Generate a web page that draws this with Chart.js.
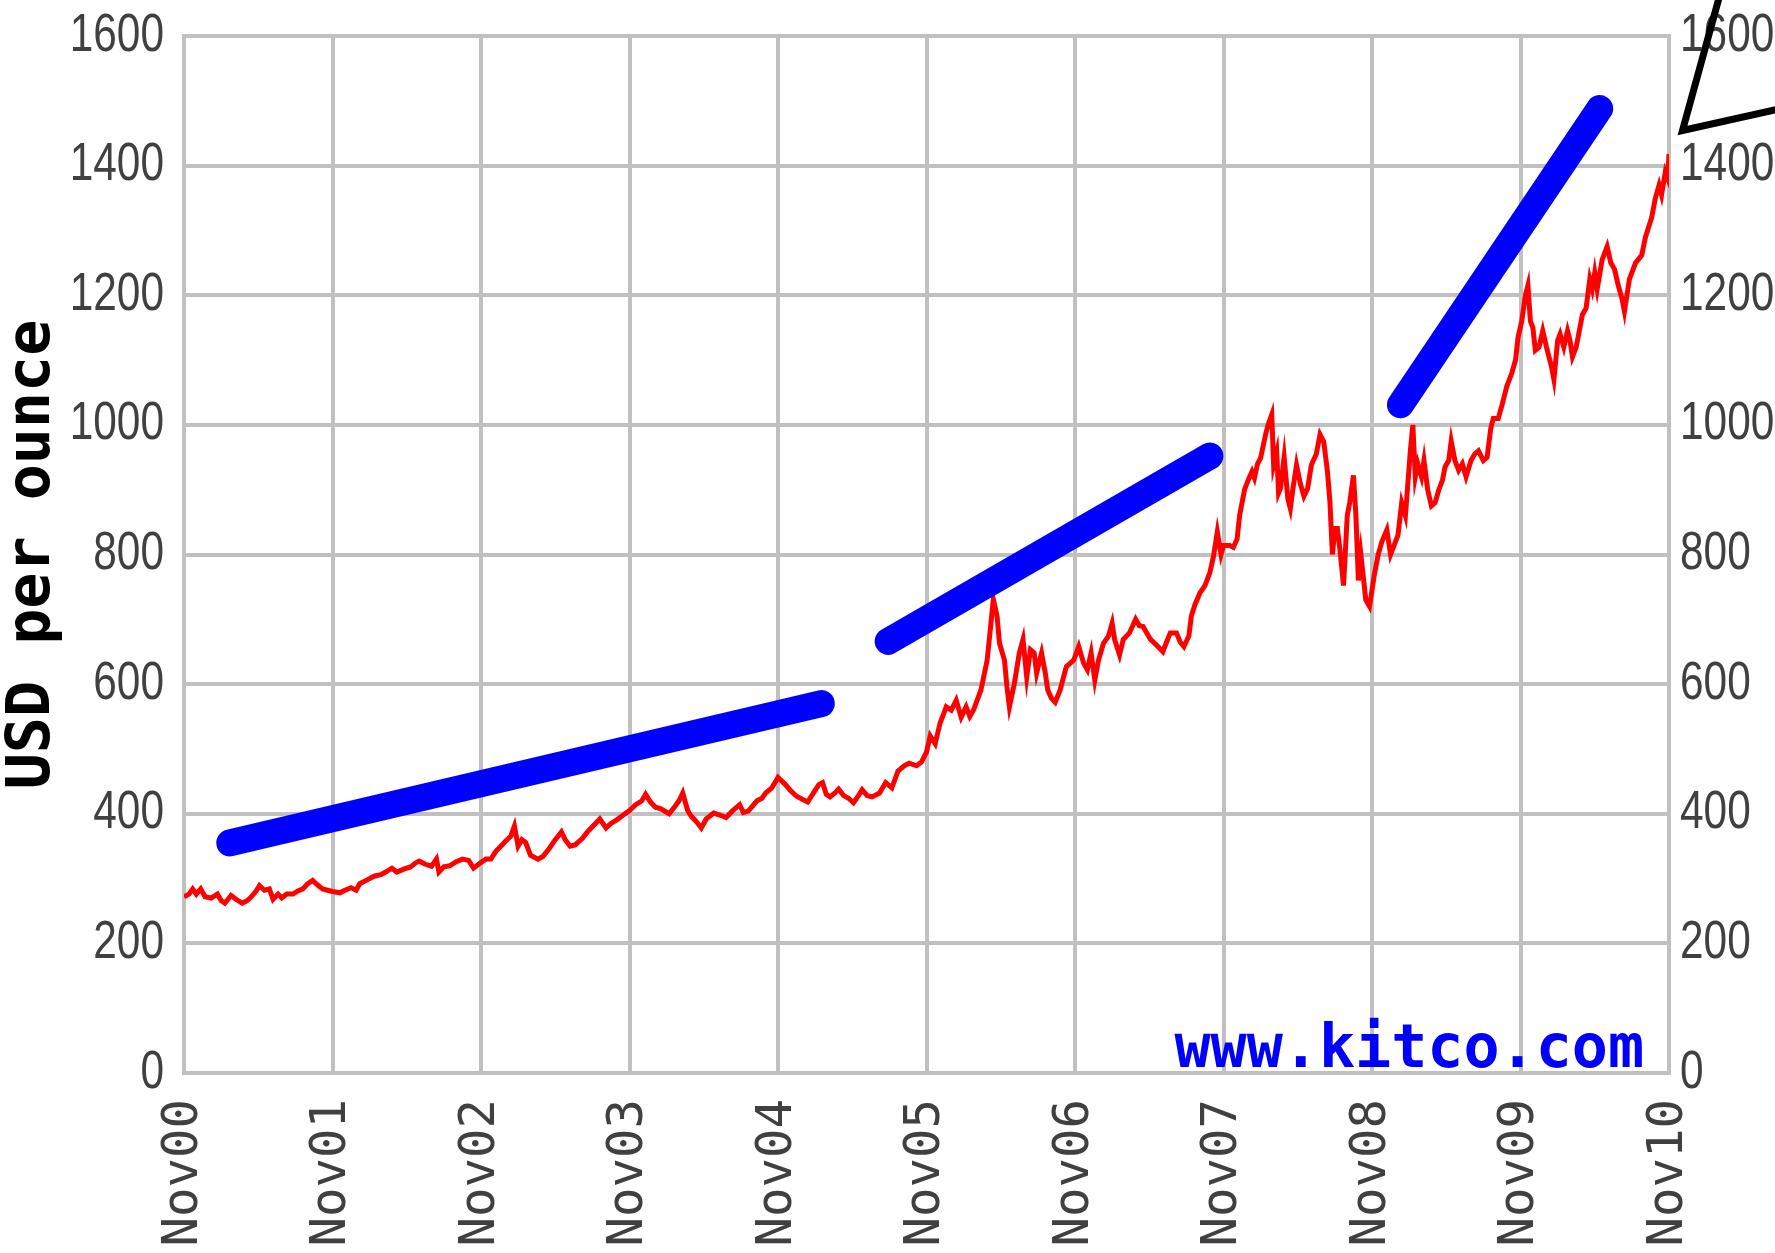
<!DOCTYPE html>
<html>
<head>
<meta charset="utf-8">
<script src="https://cdn.jsdelivr.net/npm/chart.js@4.4.1/dist/chart.umd.min.js"></script>
<style>
  html, body { margin: 0; padding: 0; background: #ffffff; }
  canvas { display: block; }
</style>
</head>
<body>
<canvas id="chart" width="1775" height="1253"></canvas>
<script>
// ---- Data (x = months since Nov 2000) ----
const xTickLabels = ['Nov00','Nov01','Nov02','Nov03','Nov04','Nov05','Nov06','Nov07','Nov08','Nov09','Nov10'];

const goldMonths = [
  0,0.4,0.7,1,1.35,1.7,2.2,2.7,3,3.3,3.8,4.2,4.7,5.1,5.4,5.8,6.1,6.5,6.9,7.2,7.6,7.9,8.3,8.8,9.2,9.6,10,10.4,10.8,11.2,11.6,
  12,12.6,13,13.5,13.9,14.2,14.8,15.4,15.9,16.3,16.8,17.2,17.8,18.3,18.7,19,19.5,20,20.4,20.6,21,21.5,22,22.5,23,23.4,23.8,
  24.4,24.8,25.2,25.6,26,26.4,26.7,27,27.3,27.6,28,28.6,29,29.5,30,30.5,30.8,31.2,31.6,32.2,32.6,33,33.6,34.1,34.5,35,35.5,
  36,36.5,37,37.3,37.7,38.1,38.5,39.2,39.7,40,40.3,40.7,41,41.4,41.8,42.2,42.8,43.3,43.8,44.3,44.9,45.2,45.6,46.3,46.7,47,47.5,
  48,48.6,49,49.5,50,50.4,51,51.3,51.6,51.9,52.2,52.6,52.9,53.3,53.7,54.1,54.5,54.8,55.2,55.6,56.2,56.7,57.2,57.7,58.2,58.6,59.2,59.6,
  60,60.3,60.7,61.1,61.6,62,62.4,62.8,63.2,63.5,63.8,64.4,64.9,65.1,65.4,65.7,65.9,66.3,66.5,66.7,67.1,67.5,67.8,68.1,68.4,68.7,68.9,69.3,69.6,69.8,70.1,70.4,70.8,71.3,71.9,
  72.3,72.7,73,73.3,73.6,73.9,74.3,74.7,75,75.2,75.6,75.9,76.4,76.9,77.2,77.5,78.1,78.6,79.1,79.4,79.7,80.2,80.5,80.8,81.2,81.4,81.7,82.1,82.5,82.9,83.2,83.5,83.8,
  84,84.5,84.8,85.1,85.3,85.7,86,86.3,86.5,86.75,87,87.4,87.6,87.9,88.05,88.3,88.45,88.6,88.9,89.2,89.4,89.6,89.9,90.2,90.5,90.8,91.1,91.5,91.8,92.1,92.4,92.6,92.8,93,93.2,93.4,93.7,94,94.2,94.5,94.7,94.9,95.1,95.5,95.8,
  96,96.2,96.5,96.8,97.2,97.5,97.8,98.1,98.4,98.7,99.1,99.3,99.5,99.7,100,100.2,100.5,100.8,101.1,101.4,101.7,101.9,102.2,102.4,102.7,103,103.3,103.6,104,104.3,104.6,105,105.3,105.6,105.8,106.2,106.5,106.9,107.3,107.6,107.8,
  108.1,108.4,108.6,108.8,109,109.2,109.5,109.8,110.1,110.5,110.7,111,111.2,111.5,111.8,112,112.2,112.5,113,113.3,113.6,113.8,114,114.2,114.6,115,115.3,115.6,115.9,116.2,116.4,116.8,117.3,117.8,118.1,118.6,118.9,119.2,119.4,119.7,119.9,120
];
const goldPrices = [
  272,276,284,276,284,272,270,276,266,262,274,268,262,266,271,280,289,282,284,268,276,270,276,276,281,284,292,297,290,284,282,
  280,278,282,286,282,292,298,304,306,310,316,310,315,318,324,327,322,319,330,310,318,320,326,330,328,316,322,
  330,330,342,350,358,365,381,350,360,356,336,330,334,346,360,372,360,350,352,362,372,380,392,378,385,391,398,
  405,414,420,430,418,410,408,400,412,420,432,405,396,388,378,392,401,398,394,404,414,402,404,420,424,432,440,
  456,445,436,427,422,418,436,445,448,430,426,432,438,428,424,417,428,437,428,426,432,448,440,466,474,478,474,480,
  495,520,508,540,565,560,575,549,565,550,560,591,637,674,731,705,663,637,596,565,601,648,669,611,653,648,617,648,617,591,578,572,591,627,637,
  658,632,622,648,606,637,663,674,694,669,645,669,679,700,690,689,669,660,650,665,679,679,665,658,674,705,723,741,752,772,798,835,800,
  814,814,811,824,860,900,915,928,918,940,949,985,1000,1016,938,958,895,902,950,886,871,900,938,910,890,902,938,955,985,974,928,881,800,840,840,809,752,860,880,922,860,760,800,730,720,
  745,770,800,820,838,800,815,830,880,860,960,1000,920,940,920,945,900,875,880,900,915,935,945,975,945,930,940,920,945,955,960,945,950,995,1010,1010,1030,1060,1080,1100,1135,
  1160,1200,1215,1160,1150,1115,1120,1145,1120,1090,1070,1130,1140,1120,1145,1130,1105,1120,1170,1180,1225,1210,1235,1210,1255,1275,1250,1240,1215,1195,1175,1225,1250,1262,1290,1320,1350,1370,1355,1390,1380,1418
];

const trend1Months = [3.7, 51.5];
const trend1Prices = [355, 570];
const trend2Months = [56.9, 82.9];
const trend2Prices = [666, 952];
const trend3Months = [98.3, 114.4];
const trend3Prices = [1031, 1488];

const yAxisTitle = 'USD per ounce';
const watermarkText = 'www.kitco.com';

// ---- Build ----
const toPoints = (xs, ys) => xs.map((x, i) => ({ x: x, y: ys[i] }));

const GRID = '#c0c0c0';
const TICK = '#404040';
const yFont = { family: '"Liberation Sans", Arial, sans-serif', size: 53 };
const xFont = { family: '"DejaVu Sans Mono", monospace', size: 49 };
const Y_LABEL_SQUEEZE = 0.8;

// Draw the scale's own tick labels horizontally condensed (narrow glyphs like the original)
function condenseLabels(scale, anchorFn) {
  if (scale._condensed) return;
  scale._condensed = true;
  scale._computeLabelArea = () => null;
  const orig = scale.drawLabels.bind(scale);
  scale.drawLabels = function (chartArea) {
    const ctx = this.ctx;
    const x0 = anchorFn(this);
    ctx.save();
    ctx.translate(x0, 0);
    ctx.scale(Y_LABEL_SQUEEZE, 1);
    ctx.translate(-x0, 0);
    orig(chartArea);
    ctx.restore();
  };
}

const overlay = {
  id: 'overlay',
  afterDatasetsDraw(chart) {
    const { ctx, chartArea: a } = chart;
    ctx.save();
    ctx.font = 'bold 60px "DejaVu Sans Mono", monospace';
    ctx.fillStyle = '#0000ff';
    ctx.textAlign = 'right';
    ctx.textBaseline = 'alphabetic';
    ctx.fillText(watermarkText, a.right - 25, a.bottom - 6);
    ctx.restore();
  },
  afterDraw(chart) {
    const { ctx, chartArea: a } = chart;
    ctx.save();
    ctx.strokeStyle = '#000000';
    ctx.lineWidth = 7;
    ctx.lineJoin = 'miter';
    ctx.beginPath();
    ctx.moveTo(a.right + 50, -2);
    ctx.lineTo(a.right + 13.5, a.top + 94.5);
    ctx.lineTo(chart.width + 2, a.top + 73.5);
    ctx.stroke();
    ctx.restore();
  }
};

new Chart(document.getElementById('chart'), {
  type: 'line',
  data: {
    datasets: [
      { data: toPoints(trend1Months, trend1Prices), borderColor: '#0000ff', borderWidth: 27, borderCapStyle: 'round', pointRadius: 0, order: 1 },
      { data: toPoints(trend2Months, trend2Prices), borderColor: '#0000ff', borderWidth: 27, borderCapStyle: 'round', pointRadius: 0, order: 1 },
      { data: toPoints(trend3Months, trend3Prices), borderColor: '#0000ff', borderWidth: 27, borderCapStyle: 'round', pointRadius: 0, order: 1 },
      { data: toPoints(goldMonths, goldPrices), borderColor: '#ff0000', borderWidth: 5, pointRadius: 0, tension: 0, order: 2 }
    ]
  },
  options: {
    responsive: false,
    animation: false,
    events: [],
    devicePixelRatio: 1,
    layout: { padding: { top: 36, left: 0, right: 0, bottom: 0 } },
    plugins: { legend: { display: false }, tooltip: { enabled: false } },
    scales: {
      x: {
        type: 'linear', position: 'bottom', min: 0, max: 120,
        ticks: {
          stepSize: 12, autoSkip: false, maxRotation: 90, minRotation: 90, padding: 26,
          color: TICK, font: xFont,
          callback: (v) => xTickLabels[Math.round(v / 12)]
        },
        grid: { color: GRID, lineWidth: 4, drawTicks: false },
        border: { color: GRID, width: 4 },
        afterFit: (s) => { s.height = 180; s.paddingLeft = 0; s.paddingRight = 0; }
      },
      y: {
        type: 'linear', position: 'left', min: 0, max: 1600,
        ticks: { stepSize: 200, padding: 20, color: TICK, font: yFont, callback: (v) => String(v) },
        grid: { color: GRID, lineWidth: 4, drawTicks: false },
        border: { color: GRID, width: 4 },
        title: {
          display: true, text: yAxisTitle, color: '#000000',
          font: { family: '"DejaVu Sans Mono", monospace', size: 60, weight: 'bold', lineHeight: 1.1 },
          padding: { top: 0, bottom: 0 }
        },
        afterFit: (s) => {
          s.width = 184; s.paddingTop = 0; s.paddingBottom = 0;
          condenseLabels(s, (sc) => sc.right - sc.options.ticks.padding);
        }
      },
      y2: {
        type: 'linear', position: 'right', min: 0, max: 1600,
        ticks: { stepSize: 200, padding: 11, color: TICK, font: yFont, callback: (v) => String(v) },
        grid: { drawOnChartArea: false, drawTicks: false },
        border: { color: GRID, width: 4 },
        afterFit: (s) => {
          s.width = 106; s.paddingTop = 0; s.paddingBottom = 0;
          condenseLabels(s, (sc) => sc.left + sc.options.ticks.padding);
        }
      }
    }
  },
  plugins: [overlay]
});
</script>
</body>
</html>
